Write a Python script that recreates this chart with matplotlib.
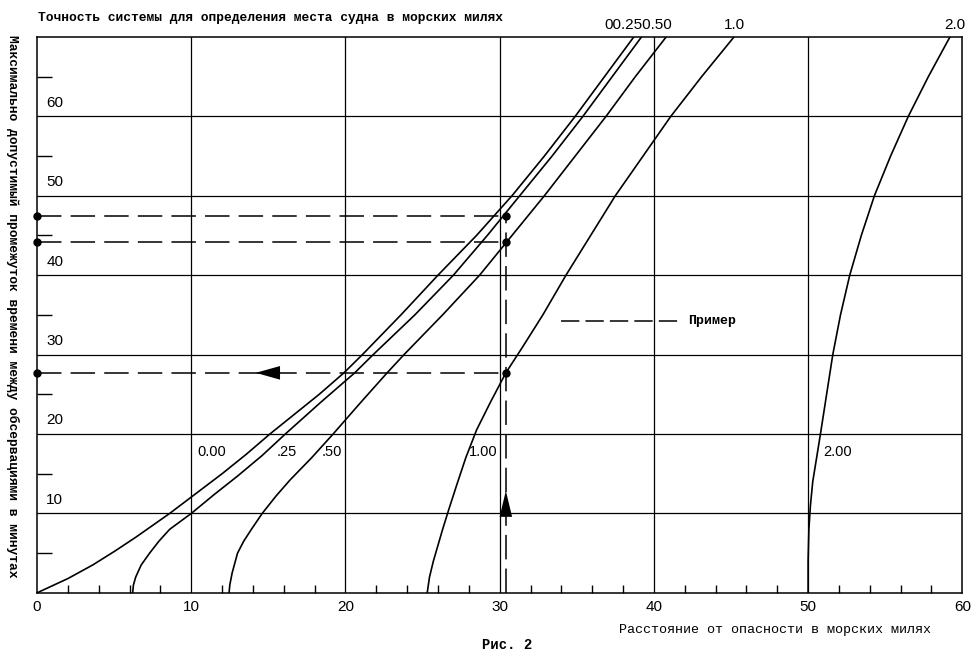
import matplotlib.pyplot as plt
from matplotlib.patches import FancyArrowPatch

# curves: accuracy of position fixing (nm) -> (distance, max interval)
acc_labels = ["0.00", ".25", ".50", "1.00", "2.00"]
curve_x = [
    [0, 1.0, 2.0, 3.6, 5.0, 6.4, 7.5, 8.6, 10.3, 12.0, 13.6, 15.1, 18.3, 19.9,
     21.1, 23.6, 26.0, 28.5, 30.8, 32.9, 34.9, 36.8, 38.7],
    [6.2, 6.25, 6.4, 6.75, 7.3, 7.9, 8.6, 9.3, 10.0, 11.5, 13.0, 14.6, 16.1,
     18.4, 20.6, 21.8, 24.5, 27.0, 29.2, 31.3, 33.4, 35.4, 37.3, 39.2],
    [12.45, 12.5, 12.65, 13.0, 13.4, 13.9, 14.6, 15.5, 16.4, 17.8, 19.2, 21.0,
     22.7, 23.8, 26.3, 28.7, 30.8, 32.9, 34.9, 36.9, 38.8, 40.8],
    [25.3, 25.45, 25.7, 26.0, 26.3, 26.7, 27.2, 27.8, 28.5, 29.4, 30.4, 31.5,
     32.8, 34.3, 35.9, 37.5, 39.3, 41.1, 43.1, 45.2],
    [50.0, 50.0, 50.05, 50.15, 50.3, 50.55, 50.8, 51.2, 51.6, 52.1, 52.7, 53.45,
     54.3, 55.35, 56.5, 57.8, 59.2],
]
curve_y = [
    [0, 0.9, 1.8, 3.5, 5.2, 7.0, 8.5, 10, 12.5, 15, 17.5, 20, 25, 27.7,
     30, 35, 40, 45, 50, 55, 60, 65, 70],
    [0, 1, 2, 3.5, 5, 6.5, 8, 9, 10, 12.4, 14.7, 17.3, 20,
     24, 27.7, 30, 35, 40, 45, 50, 55, 60, 65, 70],
    [0, 1, 2.5, 5, 6.5, 8, 10, 12.2, 14.2, 17, 20, 24,
     27.7, 30, 35, 40, 45, 50, 55, 60, 65, 70],
    [0, 2, 4, 6, 8, 10.5, 13.5, 17, 20.5, 24, 27.7, 31,
     35, 40, 45, 50, 55, 60, 65, 70],
    [0, 4, 8, 11, 14, 17, 20, 25, 30, 35, 40, 45,
     50, 55, 60, 65, 70],
]
# where the curve labels sit
label_x = [11.3, 16.2, 19.1, 28.9, 51.9]
label_y = [17.7, 17.7, 17.7, 17.7, 17.7]

# labels at the top edge
top_labels = ["00.250.50", "1.0", "2.0"]
top_x = [39.0, 45.2, 59.5]

# worked example
ex_x = 30.4
ex_y = [47.5, 44.2, 27.7]

x_major = [0, 10, 20, 30, 40, 50, 60]
x_minor = [2, 4, 6, 8, 12, 14, 16, 18, 22, 24, 26, 28, 32, 34, 36, 38,
           42, 44, 46, 48, 52, 54, 56, 58]
y_major = [10, 20, 30, 40, 50, 60]
y_minor = [5, 15, 25, 35, 45, 55, 65]

mono = "Liberation Mono"
sans = "Liberation Sans"
dash = (0, (16, 6))

fig = plt.figure(figsize=(9.75, 6.58), dpi=100)
ax = fig.add_axes([0.038, 0.099, 0.949, 0.845])
ax.set_xlim(0, 60)
ax.set_ylim(0, 70)

for v in x_major[1:-1]:
    ax.axvline(v, color="black", lw=0.9)
for v in y_major:
    ax.axhline(v, color="black", lw=0.9)

for s in ax.spines.values():
    s.set_linewidth(1.1)

ax.set_xticks(x_major)
ax.set_xticklabels([str(v) for v in x_major], fontfamily=sans, fontsize=11)
ax.set_xticks(x_minor, minor=True)
ax.set_yticks([])
ax.set_yticks(y_minor, minor=True)
ax.tick_params(axis="x", which="major", length=0, pad=5)
ax.tick_params(axis="x", which="minor", direction="in", length=6, width=1)
ax.tick_params(axis="y", which="minor", direction="in", length=11, width=1)

for v in y_major:
    ax.text(0.6, v + 1.7, str(v), fontfamily=sans, fontsize=11,
            ha="left", va="center")

for i in range(len(curve_x)):
    ax.plot(curve_x[i], curve_y[i], color="black", lw=1.2)
    ax.text(label_x[i], label_y[i], acc_labels[i], fontfamily=sans,
            fontsize=10.5, ha="center", va="center")

for i in range(len(top_labels)):
    ax.text(top_x[i], 70.6, top_labels[i], fontfamily=sans, fontsize=11,
            ha="center", va="bottom")

# example construction
ax.plot([ex_x, ex_x], [0, ex_y[0]], color="black", lw=1.1, linestyle=dash)
for y in ex_y:
    ax.plot([0, ex_x], [y, y], color="black", lw=1.1, linestyle=dash)
    ax.plot([0, ex_x], [y, y], "o", color="black", ms=5, clip_on=False)

ax.add_patch(FancyArrowPatch((15.7, ex_y[2]), (14.0, ex_y[2]),
                             arrowstyle="-|>,head_length=1.25,head_width=0.35",
                             mutation_scale=14, color="black", lw=0))
ax.add_patch(FancyArrowPatch((ex_x, 10.2), (ex_x, 13.2),
                             arrowstyle="-|>,head_length=1.25,head_width=0.3",
                             mutation_scale=15, color="black", lw=0))

# legend
ax.plot([34.0, 41.7], [34.2, 34.2], color="black", lw=1.1, linestyle=(0, (12, 4)))
ax.text(42.2, 34.2, "Пример", fontfamily=mono, fontsize=9.5, fontweight="bold",
        ha="left", va="center")

fig.text(0.039, 0.972, "Точность системы для определения места судна в морских милях",
         fontfamily=mono, fontsize=9.3, fontweight="bold", ha="left", va="center")
fig.text(0.013, 0.535, "Максимально допустимый промежуток времени между обсервациями в минутах",
         fontfamily=mono, fontsize=9.4, fontweight="bold", rotation=270,
         ha="center", va="center")
fig.text(0.795, 0.043, "Расстояние от опасности в морских милях",
         fontfamily=mono, fontsize=9.6, ha="center", va="center")
fig.text(0.52, 0.019, "Рис. 2", fontfamily=mono, fontsize=10, fontweight="bold",
         ha="center", va="center")

plt.savefig("out.png", dpi=100)
